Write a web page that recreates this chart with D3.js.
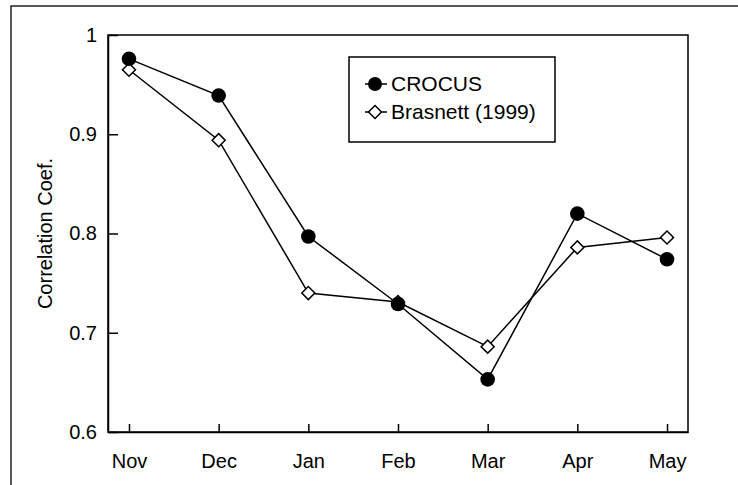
<html>
<head>
<script src="https://d3js.org/d3.v7.min.js"></script>
<style>
  body { margin: 0; background: #fff; }
  text { font-family: "Liberation Sans", Arial, sans-serif; fill: #000; }
</style>
</head>
<body>
<svg id="chart"></svg>
<script>
// values
const months = ["Nov", "Dec", "Jan", "Feb", "Mar", "Apr", "May"];
const crocus = [0.976, 0.939, 0.797, 0.729, 0.653, 0.820, 0.774];
const brasnett = [0.965, 0.894, 0.740, 0.731, 0.686, 0.786, 0.796];
const yTicks = [0.6, 0.7, 0.8, 0.9, 1];
const seriesNames = ["CROCUS", "Brasnett (1999)"];

const W = 738, H = 485;
const plotLeft = 108, plotRight = 688, plotTop = 35, plotBottom = 432;

const svg = d3.select("#chart").attr("width", W).attr("height", H);

// outer frame (runs off right and bottom of the picture)
svg.append("rect")
  .attr("x", 11).attr("y", 6)
  .attr("width", 900).attr("height", 700)
  .attr("fill", "none").attr("stroke", "#000").attr("stroke-width", 1.3);

const x = d3.scalePoint().domain(months).range([plotLeft, plotRight]).padding(0.234);
const y = d3.scaleLinear().domain([0.6, 1]).range([plotBottom, plotTop]);

// plot box
svg.append("rect")
  .attr("x", plotLeft).attr("y", plotTop)
  .attr("width", plotRight - plotLeft).attr("height", plotBottom - plotTop)
  .attr("fill", "none").attr("stroke", "#000").attr("stroke-width", 1.5);

const yAxis = svg.append("g")
  .attr("transform", "translate(" + plotLeft + ",0)")
  .call(d3.axisLeft(y).tickValues(yTicks).tickFormat(d => String(d))
    .tickSizeInner(-10).tickSizeOuter(0).tickPadding(11));

const xAxis = svg.append("g")
  .attr("transform", "translate(0," + plotBottom + ")")
  .call(d3.axisBottom(x).tickSizeInner(-8).tickSizeOuter(0).tickPadding(22));

[yAxis, xAxis].forEach(function(g) {
  g.select(".domain").attr("stroke", "#000").attr("stroke-width", 1.5);
  g.selectAll(".tick line").attr("stroke", "#000").attr("stroke-width", 1.5);
  g.selectAll(".tick text")
    .style("font-family", "'Liberation Sans', Arial, sans-serif")
    .style("font-size", "20px").attr("fill", "#000");
});

svg.append("text")
  .attr("transform", "translate(52," + ((plotTop + plotBottom) / 2) + ") rotate(-90)")
  .attr("text-anchor", "middle")
  .style("font-size", "20px")
  .text("Correlation Coef.");

const line = d3.line().x((d, i) => x(months[i])).y(d => y(d));

svg.append("path").datum(brasnett)
  .attr("fill", "none").attr("stroke", "#000").attr("stroke-width", 1.5)
  .attr("d", line);
svg.append("path").datum(crocus)
  .attr("fill", "none").attr("stroke", "#000").attr("stroke-width", 1.5)
  .attr("d", line);

const diamond = d3.symbol(d3.symbolSquare, 85);

svg.append("g").selectAll("path")
  .data(brasnett)
  .join("path")
  .attr("d", diamond)
  .attr("transform", (d, i) => "translate(" + x(months[i]) + "," + y(d) + ") rotate(45)")
  .attr("fill", "#fff").attr("stroke", "#000").attr("stroke-width", 1.5);

svg.append("g").selectAll("circle")
  .data(crocus)
  .join("circle")
  .attr("cx", (d, i) => x(months[i]))
  .attr("cy", d => y(d))
  .attr("r", 7.3)
  .attr("fill", "#000");

// legend
const lg = svg.append("g");
lg.append("rect")
  .attr("x", 349).attr("y", 57).attr("width", 206).attr("height", 85)
  .attr("fill", "#fff").attr("stroke", "#000").attr("stroke-width", 1.5);

seriesNames.forEach(function(name, i) {
  const cy = 84 + i * 28;
  lg.append("line")
    .attr("x1", 365).attr("x2", 387).attr("y1", cy).attr("y2", cy)
    .attr("stroke", "#000").attr("stroke-width", 1.5);
  if (i === 0) {
    lg.append("circle").attr("cx", 375).attr("cy", cy).attr("r", 7).attr("fill", "#000");
  } else {
    lg.append("path").attr("d", diamond)
      .attr("transform", "translate(375," + cy + ") rotate(45)")
      .attr("fill", "#fff").attr("stroke", "#000").attr("stroke-width", 1.5);
  }
  lg.append("text")
    .attr("x", 391).attr("y", cy).attr("dy", "0.35em")
    .style("font-size", "21px")
    .text(name);
});
</script>
</body>
</html>
